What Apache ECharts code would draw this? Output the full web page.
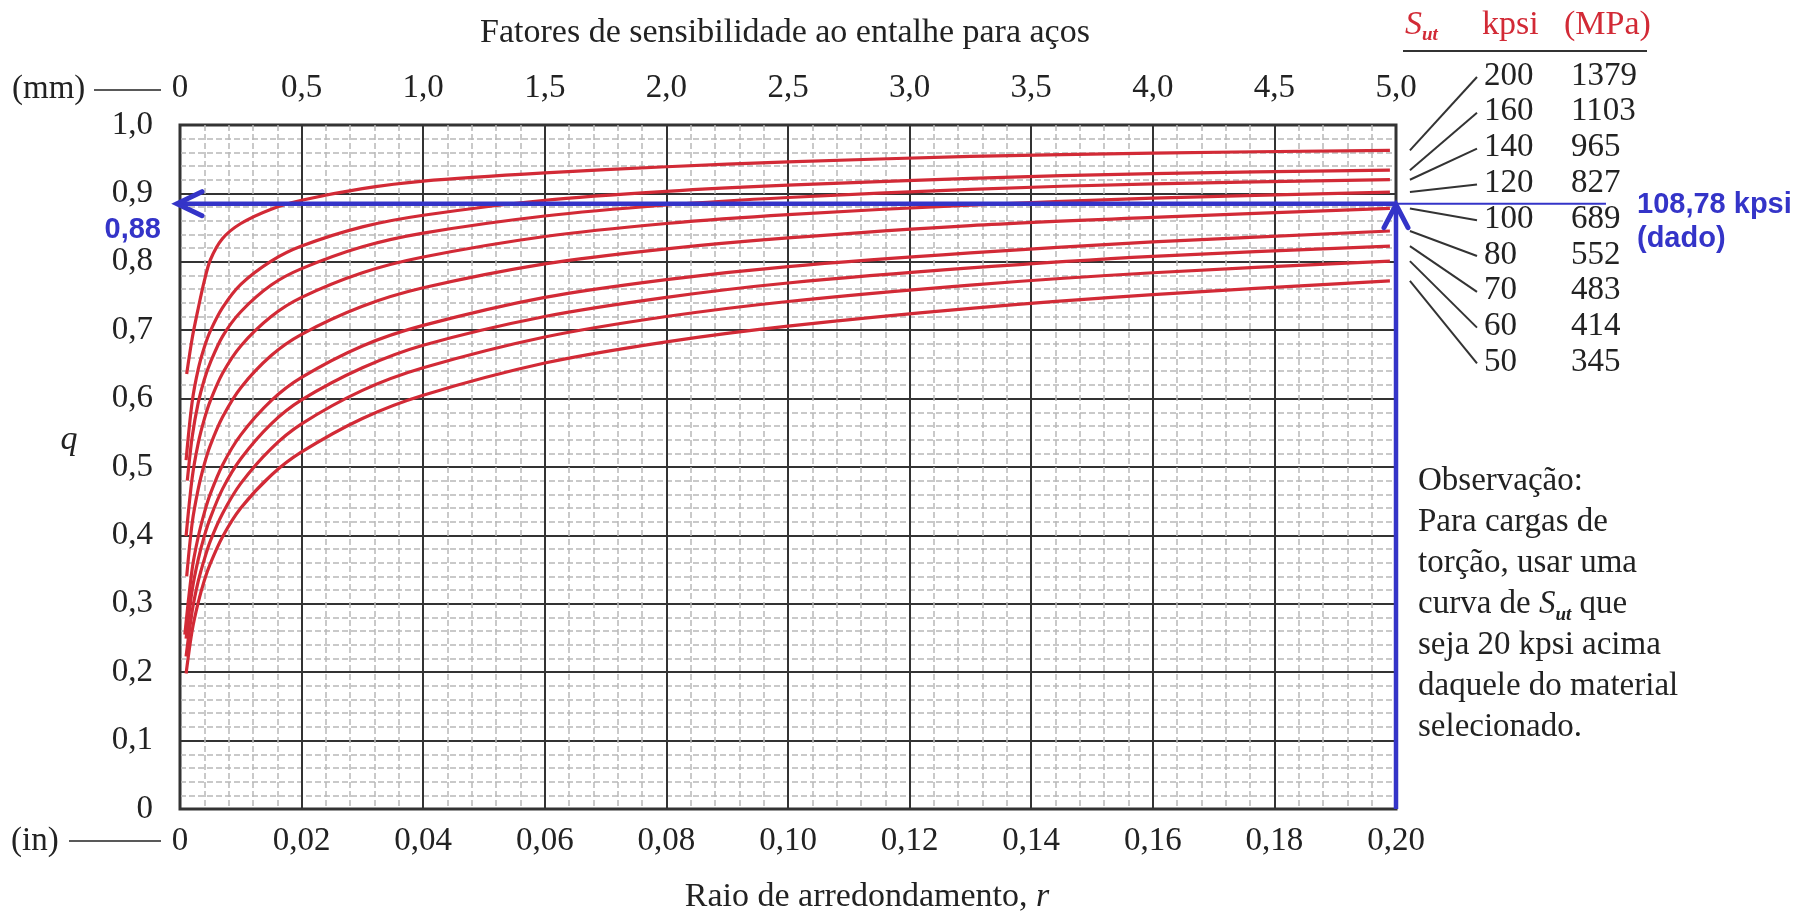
<!DOCTYPE html>
<html><head><meta charset="utf-8">
<script src="https://cdn.jsdelivr.net/npm/echarts@6/dist/echarts.min.js"></script>
<style>html,body{margin:0;padding:0;background:#fff}#c{width:1799px;height:912px}</style>
</head><body><div id="c"></div>
<script>
// ---- data ----
const sutKpsi = [200, 160, 140, 120, 100, 80, 70, 60, 50];
const sutMPa = [1379, 1103, 965, 827, 689, 552, 483, 414, 345];
// notch radius r (in) where each curve starts
const rStart = [0.0011, 0.001, 0.0012, 0.001, 0.0011, 0.0008, 0.001, 0.001, 0.001];
const qStart = [0.636, 0.51, 0.48, 0.399, 0.34, 0.255, 0.249, 0.223, 0.198];
// common radius points (in)
const rPts = [0.002, 0.003, 0.004, 0.005, 0.007, 0.01, 0.015, 0.02, 0.03, 0.04, 0.06, 0.08, 0.10, 0.13, 0.16, 0.199];
const q200 = [0.688, 0.732, 0.772, 0.803, 0.834, 0.856, 0.877, 0.890, 0.907, 0.918, 0.930, 0.939, 0.946, 0.954, 0.959, 0.963];
const q160 = [0.595, 0.643, 0.675, 0.699, 0.733, 0.767, 0.801, 0.823, 0.851, 0.868, 0.890, 0.903, 0.912, 0.922, 0.929, 0.934];
const q140 = [0.544, 0.594, 0.628, 0.653, 0.691, 0.727, 0.766, 0.790, 0.822, 0.842, 0.867, 0.883, 0.894, 0.906, 0.914, 0.920];
const q120 = [0.484, 0.535, 0.570, 0.597, 0.637, 0.677, 0.720, 0.748, 0.784, 0.807, 0.837, 0.856, 0.869, 0.883, 0.893, 0.902];
const q100 = [0.418, 0.468, 0.504, 0.532, 0.573, 0.616, 0.663, 0.694, 0.735, 0.762, 0.797, 0.819, 0.835, 0.853, 0.865, 0.878];
const q80  = [0.351, 0.398, 0.433, 0.461, 0.503, 0.547, 0.597, 0.631, 0.677, 0.707, 0.748, 0.774, 0.793, 0.813, 0.829, 0.845];
const q70  = [0.320, 0.365, 0.399, 0.426, 0.468, 0.512, 0.563, 0.598, 0.645, 0.678, 0.720, 0.748, 0.769, 0.791, 0.808, 0.823];
const q60  = [0.289, 0.333, 0.365, 0.392, 0.432, 0.476, 0.527, 0.563, 0.612, 0.645, 0.690, 0.720, 0.742, 0.766, 0.784, 0.801];
const q50  = [0.261, 0.302, 0.334, 0.359, 0.398, 0.440, 0.488, 0.522, 0.571, 0.605, 0.652, 0.683, 0.706, 0.732, 0.752, 0.772];
const curves = [q200, q160, q140, q120, q100, q80, q70, q60, q50];
// axes
const rMaxIn = 0.2, rInStep = 0.02;
const rMaxMm = 5, rMmStep = 0.5;
const qMax = 1, qStep = 0.1;
// annotation
const blueQ = 0.885;
const blueQLabel = '0,88';
const blueSutLabel = '108,78 kpsi';
const blueSutNote = '(dado)';

const RED = '#d22a36', BLUE = '#3434c8', INK = '#222';
const serif = '"Liberation Serif", "Times New Roman", serif';
const sans = '"Liberation Sans", Arial, sans-serif';
const fmt = (v, d) => (Math.abs(v) < 1e-9 ? '0' : v.toFixed(d).replace('.', ','));

const chart = echarts.init(document.getElementById('c'), null, {renderer: 'canvas'});
const labelStyle = {fontFamily: serif, fontSize: 33, color: INK};
const option = {
  animation: false,
  backgroundColor: '#fff',
  grid: {left: 180, top: 125, width: 1216, height: 684, containLabel: false, outerBoundsMode: 'none',
         show: true, borderColor: '#333', borderWidth: 3, backgroundColor: 'transparent'},
  xAxis: [
    {type: 'value', position: 'bottom', min: 0, max: rMaxIn, interval: rInStep,
     axisLine: {show: false}, axisTick: {show: false},
     axisLabel: Object.assign({margin: 16, formatter: v => fmt(v, 2), showMinLabel: true, showMaxLabel: true}, labelStyle),
     splitLine: {show: true, lineStyle: {color: '#333', width: 2}},
     minorTick: {show: false, splitNumber: 5},
     minorSplitLine: {show: true, lineStyle: {color: '#b8b8b8', width: 1.5, type: [6, 3]}}},
    {type: 'value', position: 'top', min: 0, max: rMaxMm, interval: rMmStep,
     axisLine: {show: false}, axisTick: {show: false}, splitLine: {show: false},
     axisLabel: Object.assign({margin: 20, formatter: v => fmt(v, 1), showMinLabel: true, showMaxLabel: true}, labelStyle)}
  ],
  yAxis: {type: 'value', min: 0, max: qMax, interval: qStep,
    axisLine: {show: false}, axisTick: {show: false},
    axisLabel: Object.assign({margin: 27, formatter: v => fmt(v, 1), showMinLabel: true, showMaxLabel: true}, labelStyle),
    splitLine: {show: true, lineStyle: {color: '#333', width: 2}},
    minorTick: {show: false, splitNumber: 5},
    minorSplitLine: {show: true, lineStyle: {color: '#b8b8b8', width: 1.5, type: [6, 3]}}},
  series: curves.map((q, i) => ({
    type: 'line', name: String(sutKpsi[i]), xAxisIndex: 0, yAxisIndex: 0,
    data: [[rStart[i], qStart[i]]].concat(rPts.map((r, j) => [r, q[j]])),
    showSymbol: false, symbol: 'none', smooth: 0.3, silent: true, z: 3,
    lineStyle: {color: RED, width: 3.2}
  }))
};
chart.setOption(option);

function txt(text, x, y, o) {
  o = o || {};
  const st = {text: text, font: o.font || ('33px ' + serif), fill: o.fill || INK,
    align: o.align || 'left', verticalAlign: o.va || 'middle',
    textAlign: o.align || 'left', textVerticalAlign: o.va || 'middle'};
  if (o.rich) st.rich = o.rich;
  if (o.lineHeight) st.lineHeight = o.lineHeight;
  return {type: 'text', x: x, y: y, z: 30, silent: true, style: st};
}
function seg(x1, y1, x2, y2, color, w) {
  return {type: 'line', z: 30, silent: true, shape: {x1: x1, y1: y1, x2: x2, y2: y2},
    style: {stroke: color, lineWidth: w, lineCap: 'butt'}};
}
function poly(pts, color, w) {
  return {type: 'polyline', z: 31, silent: true, shape: {points: pts},
    style: {stroke: color, lineWidth: w, fill: null, lineJoin: 'miter', lineCap: 'round'}};
}

const P = (x, y) => chart.convertToPixel({xAxisIndex: 0, yAxisIndex: 0}, [x, y]);
const g = [];
// titles
g.push(txt('Fatores de sensibilidade ao entalhe para aços', 785, 33, {align: 'center', font: '34px ' + serif}));
g.push(txt('Raio de arredondamento, {i|r}', 867, 897, {align: 'center', font: '34px ' + serif,
  rich: {i: {font: 'italic 34px ' + serif, fill: INK}}}));
g.push(txt('q', 69, 440, {align: 'center', font: 'italic 34px ' + serif}));
// unit markers
g.push(txt('(mm)', 12, 89, {font: '33px ' + serif}));
g.push(seg(94, 90, 161, 90, INK, 1.6));
g.push(txt('(in)', 11, 841, {font: '33px ' + serif}));
g.push(seg(69, 841, 161, 841, INK, 1.6));

// legend header
g.push(txt('{s|S}{sub|ut}', 1405, 25, {font: 'italic 34px ' + serif, fill: RED,
  rich: {s: {font: 'italic 34px ' + serif, fill: RED, lineHeight: 40},
         sub: {font: 'italic bold 19px ' + serif, fill: RED, lineHeight: 20, verticalAlign: 'bottom'}}}));
g.push(txt('kpsi', 1482, 25, {font: '34px ' + serif, fill: RED}));
g.push(txt('(MPa)', 1564, 25, {font: '34px ' + serif, fill: RED}));
g.push(seg(1403, 51, 1647, 51, '#333', 2));

// legend rows + leader lines
const row0 = 76, rowStep = 35.8;
curves.forEach((q, i) => {
  const ry = row0 + i * rowStep;
  g.push(txt(String(sutKpsi[i]), 1484, ry, {font: '33px ' + serif}));
  g.push(txt(String(sutMPa[i]), 1571, ry, {font: '33px ' + serif}));
  const end = P(rPts[rPts.length - 1], q[q.length - 1]);
  g.push(seg(end[0] + 20, end[1], 1477, ry + 1, '#333', 2));
});

// observation note
g.push(txt('Observação:\nPara cargas de\ntorção, usar uma\ncurva de {s|S}{sub|ut} que\nseja 20 kpsi acima\ndaquele do material\nselecionado.',
  1418, 461, {va: 'top', font: '33px ' + serif, lineHeight: 41,
  rich: {s: {font: 'italic 33px ' + serif, fill: INK, lineHeight: 41},
         sub: {font: 'italic bold 19px ' + serif, fill: INK, lineHeight: 20, verticalAlign: 'bottom'}}}));

// blue annotation
const pL = P(0, blueQ), pR = P(rMaxIn, blueQ), pB = P(rMaxIn, 0);
g.push(seg(pL[0] - 2, pL[1], pR[0], pR[1], BLUE, 4.5));
g.push(seg(pR[0], pR[1], 1606, pR[1], BLUE, 2));
g.push(seg(pB[0], pB[1], pR[0], pR[1] + 2, BLUE, 4.5));
g.push(poly([[pL[0] + 22, pL[1] - 12], [pL[0] - 3, pL[1]], [pL[0] + 22, pL[1] + 12]], BLUE, 5));
g.push(poly([[pR[0] - 12, pR[1] + 24], [pR[0], pR[1] + 1], [pR[0] + 12, pR[1] + 24]], BLUE, 5));
g.push(txt(blueQLabel, 161, 230, {align: 'right', font: 'bold 29px ' + sans, fill: BLUE}));
g.push(txt(blueSutLabel, 1637, 205, {font: 'bold 29px ' + sans, fill: BLUE}));
g.push(txt(blueSutNote, 1637, 239, {font: 'bold 29px ' + sans, fill: BLUE}));

chart.setOption({graphic: {elements: g}});
</script></body></html>
